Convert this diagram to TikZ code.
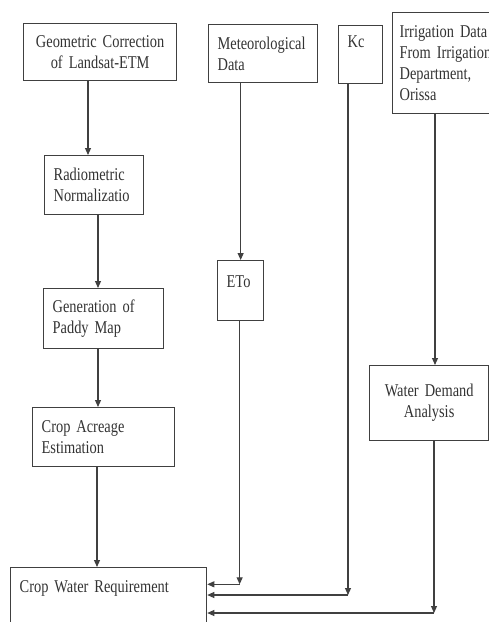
\documentclass[tikz,border=0pt]{standalone}
\usepackage{fontspec}
\setmainfont{Liberation Serif}[FakeStretch=0.8]
\usetikzlibrary{arrows.meta, calc, positioning}
\tikzset{
    my-box/.style={
        draw=black!75, line width=1.3pt, anchor=north west, inner xsep=9pt, inner ysep=0pt,
        align=left, text=black!80, font=\fontsize{18}{21}\selectfont
    },
    my-arrow/.style={
        draw=black!75, line width=1.1pt, -{Triangle[length=7pt, width=6pt]}
    },
}

\begin{document}
\begin{tikzpicture}[x=1pt, y=-1pt]

        \useasboundingbox[fill=white] (0, 0) rectangle (489, 622);

        % INPUTS - TOP ROW ----------------------------------------------------------------------------
        \node[my-box, text width=135pt, minimum height=57pt, align=center] (GEO) at (23, 23)  {Geometric Correction\\of Landsat-ETM};
        \node[my-box, text width=91pt,  minimum height=58pt]               (MET) at (208, 24) {Meteorological\\Data};
        \node[my-box, text width=26pt,  minimum height=58pt, text depth=26pt] (KC) at (338, 25) {Kc};
        \node[my-box, text width=94pt,  minimum height=101pt, inner xsep=7pt] (IRR) at (392, 12) {Irrigation Data\\From Irrigation\\Department,\\Orissa};

        % LEFT COLUMN - LANDSAT PROCESSING
        \node[my-box, text width=81pt,  minimum height=59pt] (RAD) at ($(GEO.north west) + (21, 132)$) {Radiometric\\Normalizatio};
        \node[my-box, text width=102pt, minimum height=60pt] (GEN) at ($(RAD.north west) + (-1, 133)$) {Generation of\\Paddy Map};
        \node[my-box, text width=124pt, minimum height=59pt] (ACR) at ($(GEN.north west) + (-11, 119)$) {Crop Acreage\\Estimation};

        % MIDDLE AND RIGHT COLUMNS
        \node[my-box, text width=28pt,  minimum height=60pt, text depth=18pt] (ETO) at (217, 260) {ETo};
        \node[my-box, text width=101pt, minimum height=75pt, align=center]    (WDA) at (369, 365) {Water Demand\\Analysis};

        % OUTPUT
        \node[my-box, text width=178pt, inner ysep=12.5pt, text height=12.5pt, text depth=50pt] (CWR) at (10, 567) {Crop Water Requirement};

        % CONNECTOR POINTS
        \coordinate[] (GEOOUT)    at (88, 0);
        \coordinate[] (RADOUT)    at (98, 0);
        \coordinate[] (ACROUT)    at (97, 0);
        \coordinate[] (IRROUT)    at (435, 0);
        \coordinate[] (ETOCORNER) at ($(ETO.south) + (-1, 263)$);
        \coordinate[] (KCCORNER)  at (348, 595);
        \coordinate[] (WDACORNER) at (434, 613);

        % LEFT COLUMN WIRES
        \draw[my-arrow] (GEOOUT |- GEO.south) -- (GEOOUT |- RAD.north);
        \draw[my-arrow] (RADOUT |- RAD.south) -- (RADOUT |- GEN.north);
        \draw[my-arrow] (RADOUT |- GEN.south) -- (RADOUT |- ACR.north);
        \draw[my-arrow] (ACROUT |- ACR.south) -- (ACROUT |- CWR.north);

        % MIDDLE AND RIGHT WIRES
        \draw[my-arrow] (ETO.north |- MET.south) -- (ETO.north);
        \draw[my-arrow] (IRROUT |- IRR.south) -- (IRROUT |- WDA.north);

        % WIRES INTO CROP WATER REQUIREMENT
        \draw[my-arrow] (ETOCORNER |- ETO.south) -- (ETOCORNER);
        \draw[my-arrow] (ETOCORNER) -- (ETOCORNER -| CWR.east);
        \draw[my-arrow] (KCCORNER |- KC.south) -- (KCCORNER);
        \draw[my-arrow] (KCCORNER) -- (KCCORNER -| CWR.east);
        \draw[my-arrow] (WDACORNER |- WDA.south) -- (WDACORNER);
        \draw[my-arrow] (WDACORNER) -- (WDACORNER -| CWR.east);

\end{tikzpicture}
\end{document}
